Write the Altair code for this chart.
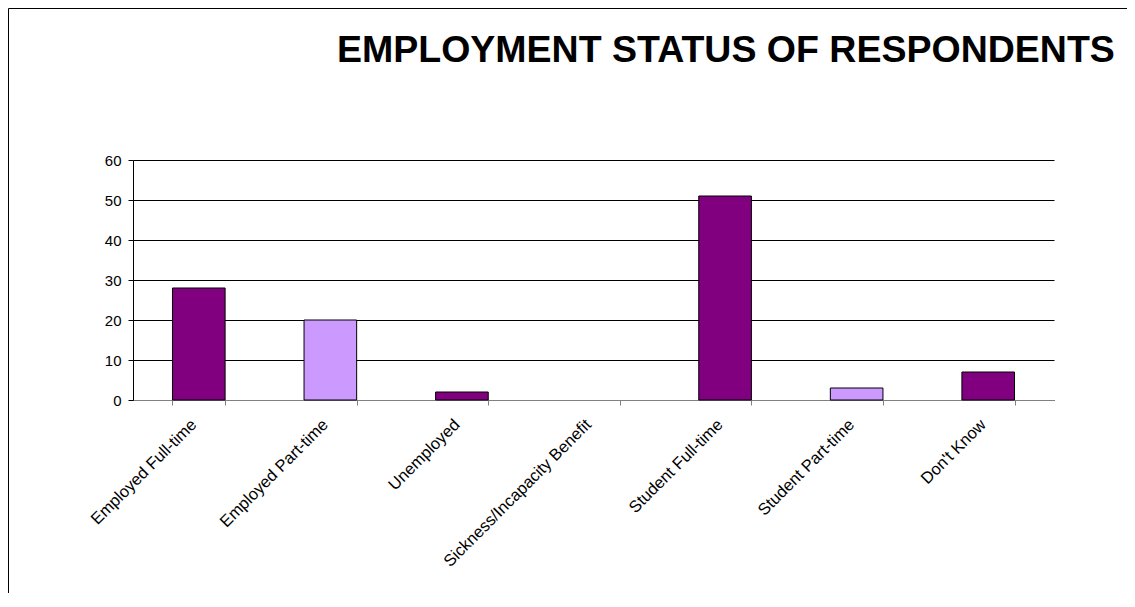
import altair as alt
import pandas as pd

title_text = ["EMPLOYMENT STATUS OF RESPONDENTS"]
categories = ["Employed Full-time", "Employed Part-time", "Unemployed",
              "Sickness/Incapacity Benefit", "Student Full-time",
              "Student Part-time", "Don't Know"]
values = [28, 20, 2, 0, 51, 3, 7]
bar_colors = ["#800080", "#CC99FF", "#800080", "#800080", "#800080", "#CC99FF", "#800080"]
y_ticks = [0, 10, 20, 30, 40, 50, 60]

df = pd.DataFrame({"category": categories, "value": values, "color": bar_colors})
frame_df = pd.DataFrame({"f": [0]})
title_df = pd.DataFrame({"t": title_text})

FONT = "Liberation Sans"

bars = alt.Chart(df).transform_filter(
    alt.datum.value > 0
).mark_bar(stroke="black", strokeWidth=1).encode(
    x=alt.X("category:N", sort=categories,
            scale=alt.Scale(domain=categories, paddingInner=0.6, paddingOuter=0.3),
            axis=alt.Axis(title=None, labelAngle=-45, labelAlign="right",
                          labelBaseline="top", labelPadding=11, labelOffset=-11,
                          tickBand="extent", tickSize=5, tickColor="#808080",
                          domainColor="#808080", labelFont=FONT, labelFontSize=16.5,
                          labelColor="black", grid=False, labelLimit=400)),
    y=alt.Y("value:Q", scale=alt.Scale(domain=[0, 60], nice=False),
            axis=alt.Axis(title=None, values=y_ticks, grid=True, gridColor="black",
                          gridOpacity=1, gridWidth=1, tickColor="black", tickSize=5,
                          domainColor="black", labelFont=FONT, labelFontSize=15,
                          labelColor="black", labelPadding=7)),
    color=alt.Color("color:N", scale=None),
)

frame = alt.Chart(frame_df).mark_rect(fill=None, stroke="black", strokeWidth=1).encode(
    x=alt.value(-124.5), x2=alt.value(3000), y=alt.value(-151.5), y2=alt.value(3000)
)

title = alt.Chart(title_df).mark_text(
    align="left", baseline="alphabetic", font=FONT, fontSize=37.5,
    fontWeight="bold", color="black"
).encode(x=alt.value(204), y=alt.value(-98), text="t:N")

chart = alt.layer(frame, bars, title).properties(
    width=921, height=240,
    autosize="none",
    padding={"left": 125, "top": 152, "right": 73, "bottom": 193},
).configure_view(stroke=None)

chart.save("out.html", embed_options={"renderer": "svg", "actions": False})
